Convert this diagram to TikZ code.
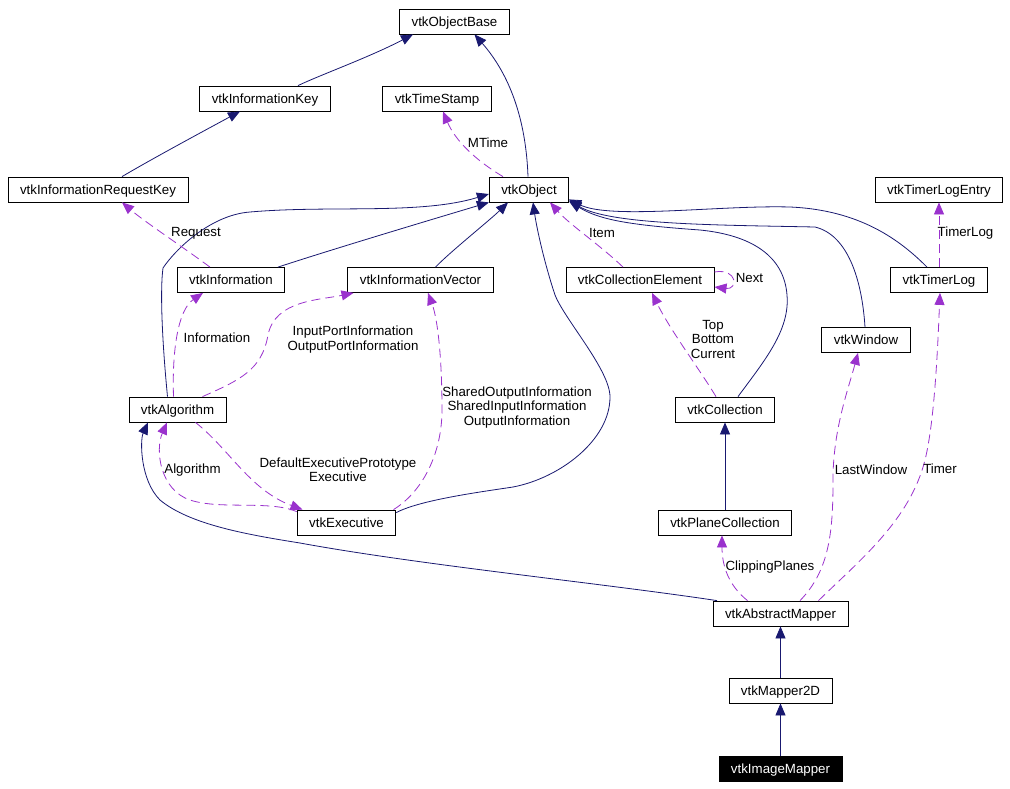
\documentclass[tikz,border=0pt]{standalone}
\usepackage{fontspec}
\setmainfont{Liberation Sans}
\usetikzlibrary{arrows.meta}
\definecolor{dxblue}{RGB}{25,25,112}
\definecolor{dxpurple}{RGB}{154,50,205}

\begin{document}
\begin{tikzpicture}[x=1pt,y=-1pt,
  every node/.style={font=\fontsize{13.3}{14.5}\selectfont},
  cls/.style={draw=black,line width=0.8pt,fill=white,inner xsep=12pt,inner ysep=0pt,minimum height=25pt,text height=9.6pt,text depth=0pt},
  inherit/.style={dxblue,line width=0.8pt,-{Triangle[length=12pt,width=10pt]}},
  uses/.style={dxpurple,line width=0.8pt,dash pattern=on 9pt off 5pt,-{Triangle[length=12pt,width=10pt]}},
  lbl/.style={align=center,inner sep=0pt}]
\useasboundingbox (0,0) rectangle (1010,788);

% classes
\node[cls] (objbase) at (454.5,21.5) {vtkObjectBase};
\node[cls] (infokey) at (265,98.5) {vtkInformationKey};
\node[cls] (timestamp) at (437,98.5) {vtkTimeStamp};
\node[cls] (inforeqkey) at (98,189.5) {vtkInformationRequestKey};
\node[cls] (object) at (529,189.5) {vtkObject};
\node[cls] (timerlogentry) at (939,189.5) {vtkTimerLogEntry};
\node[cls] (information) at (231,280) {vtkInformation};
\node[cls] (infovector) at (420.5,280) {vtkInformationVector};
\node[cls] (collelement) at (640,280) {vtkCollectionElement};
\node[cls] (timerlog) at (939,280) {vtkTimerLog};
\node[cls] (window) at (866,340) {vtkWindow};
\node[cls] (algorithm) at (177.5,409.5) {vtkAlgorithm};
\node[cls] (collection) at (725,409.5) {vtkCollection};
\node[cls] (executive) at (346.5,522.5) {vtkExecutive};
\node[cls] (planecoll) at (725,522.5) {vtkPlaneCollection};
\node[cls] (absmapper) at (780.5,613.5) {vtkAbstractMapper};
\node[cls] (mapper2d) at (780.5,690.5) {vtkMapper2D};
\node[cls,fill=black,text=white] (imagemapper) at (780.5,768.5) {vtkImageMapper};

% inheritance
\draw[inherit] ([xshift=33pt]infokey.north) .. controls (320,75) and (370,57) .. ([xshift=-41.5pt]objbase.south);
\draw[inherit] ([xshift=24pt]inforeqkey.north) .. controls (150,160) and (200,133) .. ([xshift=-25pt]infokey.south);
\draw[inherit] ([xshift=-1pt]object.north) .. controls (526,120) and (510,75) .. ([xshift=20pt]objbase.south);
\draw[inherit] ([xshift=-10pt]algorithm.north) .. controls (162,340) and (160,290) .. (163,268)
  .. controls (175,250) and (210,215) .. (250,212) .. controls (330,205) and (420,215) .. ([yshift=-4.5pt]object.west);
\draw[inherit] ([xshift=47pt]information.north) .. controls (330,250) and (430,220) .. (object.south west);
\draw[inherit] ([xshift=15pt]infovector.north) .. controls (450,252) and (490,220) .. ([xshift=-21pt]object.south);
\draw[inherit] ([yshift=-3pt]executive.north east) .. controls (420,500) and (480,492) .. (513,487)
  .. controls (560,478) and (610,440) .. (610,397) .. controls (610,370) and (565,320) .. (555,295)
  .. controls (545,265) and (537,230) .. ([xshift=4pt]object.south);
\draw[inherit] ([xshift=13pt]collection.north) .. controls (765,360) and (790,330) .. (787,295)
  .. controls (784,255) and (750,235) .. (700,230) .. controls (630,225) and (600,220) .. ([yshift=1pt]object.south east);
\draw[inherit] ([xshift=-1pt]window.north) .. controls (862,280) and (848,235) .. (815,227)
  .. controls (720,225) and (610,225) .. ([yshift=2pt]object.south east);
\draw[inherit] ([xshift=-12pt]timerlog.north) .. controls (900,240) and (860,210) .. (790,207)
  .. controls (720,205) and (610,220) .. ([yshift=3pt]object.south east);
\draw[inherit] (planecoll.north) -- (collection.south);
\draw[inherit] ([xshift=-63.5pt]absmapper.north) .. controls (600,583) and (420,565) .. (300,543)
  .. controls (250,535) and (190,525) .. (160,500) .. controls (140,480) and (140,440) .. ([xshift=-29.5pt]algorithm.south);
\draw[inherit] (mapper2d.north) -- (absmapper.south);
\draw[inherit] (imagemapper.north) -- (mapper2d.south);

% usage
\draw[uses] ([xshift=-26pt]object.north) .. controls (475,160) and (455,140) .. ([xshift=6pt]timestamp.south);
\node[lbl] (l-mtime) at (488,143) {MTime};
\draw[uses] ([xshift=-21pt]information.north) .. controls (180,245) and (145,222) .. ([xshift=24pt]inforeqkey.south);
\node[lbl] (l-request) at (196,233) {Request};
\draw[uses] ([xshift=-4pt]algorithm.north) .. controls (172,350) and (178,310) .. ([xshift=-28pt]information.south);
\node[lbl] (l-information) at (217,338) {Information};
\draw[uses] ([xshift=25pt]algorithm.north) .. controls (240,380) and (262,370) .. (268,335)
  .. controls (275,300) and (320,300) .. ([xshift=-67pt]infovector.south);
\node[lbl] (l-ports) at (353,339.5) {InputPortInformation\\OutputPortInformation};
\draw[uses] ([xshift=18pt]algorithm.south) .. controls (230,450) and (250,490) .. ([xshift=-44pt]executive.north);
\node[lbl] (l-executive) at (338,469.5) {DefaultExecutivePrototype\\Executive};
\draw[uses] ([yshift=-2pt]executive.north west) .. controls (270,500) and (220,510) .. (190,500)
  .. controls (160,490) and (155,450) .. ([xshift=-10.5pt]algorithm.south);
\node[lbl] (l-algorithm) at (192.5,470) {Algorithm};
\draw[uses] ([xshift=47pt]executive.north) .. controls (425,490) and (442,450) .. (442,410)
  .. controls (442,360) and (438,320) .. ([xshift=7.5pt]infovector.south);
\node[lbl] (l-shared) at (517,407.5) {SharedOutputInformation\\SharedInputInformation\\OutputInformation};
\draw[uses] ([xshift=-9pt]collection.north) .. controls (700,370) and (670,330) .. ([xshift=12pt]collelement.south);
\node[lbl] (l-top) at (713,339) {Top\\Bottom\\Current};
\draw[uses] ([xshift=-17pt]collelement.north) .. controls (600,245) and (570,225) .. ([xshift=21pt]object.south);
\node[lbl] (l-item) at (602,233) {Item};
\draw[uses] ([yshift=8pt]collelement.east) .. controls (738,268) and (738,290) .. ([yshift=-7pt]collelement.east);
\node[lbl] (l-next) at (749.5,278) {Next};
\draw[uses] (timerlog.north) -- (timerlogentry.south);
\node[lbl] (l-timerlog) at (965.5,233) {TimerLog};
\draw[uses] ([xshift=-33pt]absmapper.north) .. controls (728,585) and (722,565) .. ([xshift=-3pt]planecoll.south);
\node[lbl] (l-clipping) at (770,567) {ClippingPlanes};
\draw[uses] ([xshift=19.5pt]absmapper.north) .. controls (830,570) and (833,530) .. (833,480)
  .. controls (833,430) and (848,390) .. ([xshift=-8pt]window.south);
\node[lbl] (l-lastwindow) at (871,470) {LastWindow};
\draw[uses] ([xshift=38pt]absmapper.north) .. controls (860,560) and (910,520) .. (925,460)
  .. controls (935,420) and (938,340) .. ([xshift=1pt]timerlog.south);
\node[lbl] (l-timer) at (940,469) {Timer};
\end{tikzpicture}
\end{document}
